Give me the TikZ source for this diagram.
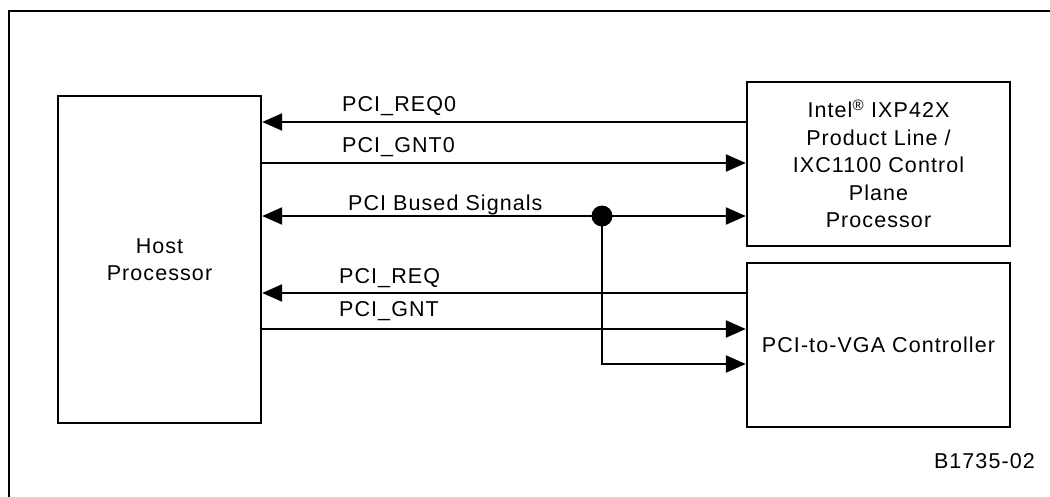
\documentclass[tikz,border=0pt]{standalone}
\usepackage{fontspec}
\setmainfont{Liberation Sans}[LetterSpace=5]
\usetikzlibrary{positioning,arrows.meta}
\tikzset{blk/.style={draw,line width=2.4pt,minimum width=263pt,minimum height=164pt,inner sep=0pt,align=center},
         sig/.style={line width=2.3pt},
         lbl/.style={anchor=base west,inner sep=0pt}}

\begin{document}
\begin{tikzpicture}[x=1pt,y=-1pt,>={Triangle[length=20pt,width=17pt]},font=\fontsize{21.5}{27.5}\selectfont]
        \useasboundingbox (0,0) rectangle (1050,496);
        \draw[line width=2pt] (9,510) |- (1060,11);

        \node[blk,minimum width=203pt,minimum height=327pt] (host) at (159.5,259.5) {Host\\Processor};
        \node[blk] (ixp) at (878.5,164) {Intel\textsuperscript{\textregistered} IXP42X\\Product Line /\\IXC1100 Control\\Plane\\Processor};
        \node[blk] (vga) at (878.5,345) {PCI-to-VGA Controller};
        \node[circle,fill,inner sep=0pt,minimum size=21pt] (bus) at (602,216) {};

        \draw [sig,<-] (host.east |- 0,122) -- (ixp.west |- 0,122);
        \draw [sig,->] (host.east |- 0,163) -- (ixp.west |- 0,163);
        \draw [sig,<->] (host.east |- bus) -- (ixp.west |- bus);
        \draw [sig,<-] (host.east |- 0,293) -- (vga.west |- 0,293);
        \draw [sig,->] (host.east |- 0,329) -- (vga.west |- 0,329);
        \draw [sig,->] (bus.center) |- (vga.west |- 0,364);

        \node[lbl] (req0) at (342,111) {PCI\_REQ0};
        \node[lbl] (gnt0) at (342,152) {PCI\_GNT0};
        \node[lbl] (bussig) at (348,210) {PCI Bused Signals};
        \node[lbl] (req) at (339,283) {PCI\_REQ};
        \node[lbl] (gnt) at (339,316) {PCI\_GNT};
        \node[anchor=base east,inner sep=0pt] (fig) at (1035,468) {B1735-02};
    \end{tikzpicture}
\end{document}
